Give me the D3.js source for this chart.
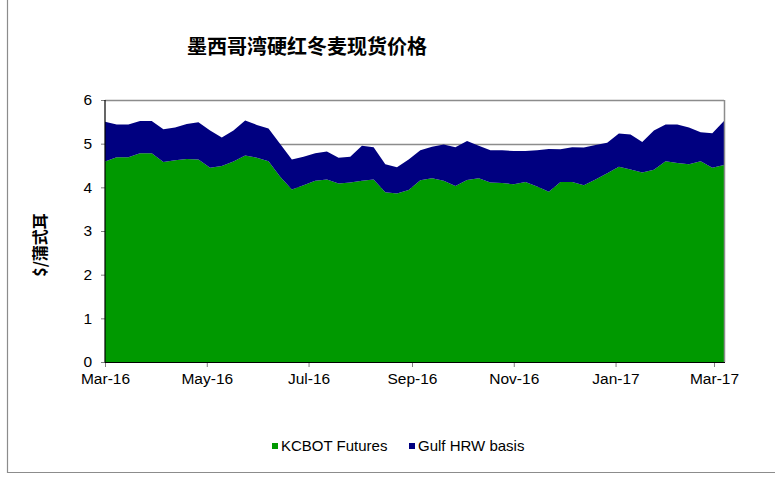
<!DOCTYPE html>
<html>
<head>
<meta charset="utf-8">
<script src="https://cdn.jsdelivr.net/npm/d3@7"></script>
<style>
  body { margin: 0; background: #fff; }
  svg { display: block; font-family: "Liberation Sans", Arial, sans-serif; }
  .title { font-family: "Noto Sans CJK SC", sans-serif; font-weight: 700; }
  .ylabel { font-family: "Noto Sans CJK SC", sans-serif; font-weight: 700; }
  .axis text { font-size: 15.5px; fill: #000; font-family: "Liberation Sans", Arial, sans-serif; }
  .axis .domain { display: none; }
  .axis .tick line { stroke: #808080; }
</style>
</head>
<body>
<svg id="chart" width="775" height="477"></svg>
<script>
// weekly observations, Tuesdays from 2016-03-01
var startDate = new Date(2016, 2, 1);
var weeks = 54;

// $/bu, KCBOT futures
var kcbotFutures = [
  4.59, 4.69, 4.69, 4.78, 4.78, 4.58, 4.62, 4.65, 4.64, 4.45,
  4.49, 4.59, 4.73, 4.68, 4.60, 4.24, 3.95, 4.05, 4.15, 4.18,
  4.09, 4.11, 4.15, 4.18, 3.89, 3.86, 3.94, 4.16, 4.21, 4.15,
  4.03, 4.17, 4.21, 4.11, 4.10, 4.07, 4.12, 4.02, 3.90, 4.12,
  4.12, 4.05, 4.18, 4.32, 4.47, 4.41, 4.34, 4.40, 4.60, 4.56,
  4.53, 4.60, 4.45, 4.51
];

// $/bu, Gulf HRW basis over futures
var gulfBasis = [
  0.91, 0.75, 0.75, 0.74, 0.74, 0.75, 0.75, 0.80, 0.85, 0.85,
  0.65, 0.71, 0.80, 0.75, 0.75, 0.75, 0.69, 0.65, 0.63, 0.64,
  0.59, 0.59, 0.80, 0.74, 0.64, 0.60, 0.70, 0.69, 0.72, 0.83,
  0.89, 0.89, 0.74, 0.74, 0.75, 0.76, 0.71, 0.83, 0.98, 0.75,
  0.80, 0.86, 0.79, 0.70, 0.76, 0.80, 0.70, 0.90, 0.84, 0.88,
  0.84, 0.66, 0.79, 1.01
];

var seriesNames = ['KCBOT Futures', 'Gulf HRW basis'];
var seriesColors = ['#009900', '#000080'];
var yTicks = [0, 1, 2, 3, 4, 5, 6];
var xTicks = [
  new Date(2016, 2, 1), new Date(2016, 4, 1), new Date(2016, 6, 1),
  new Date(2016, 8, 1), new Date(2016, 10, 1), new Date(2017, 0, 1),
  new Date(2017, 2, 1)
];

var rows = d3.range(weeks).map(function(i) {
  return {
    date: d3.timeDay.offset(startDate, i * 7),
    kcbot: kcbotFutures[i],
    basis: gulfBasis[i]
  };
});

var svg = d3.select('#chart');
var plot = { left: 105, right: 724, top: 100, bottom: 362 };

var x = d3.scaleTime()
  .domain([rows[0].date, rows[rows.length - 1].date])
  .range([plot.left, plot.right]);

var y = d3.scaleLinear()
  .domain([0, 6])
  .range([plot.bottom, plot.top]);

// outer chart frame
svg.append('path')
  .attr('d', 'M7.5,0V472.5H775')
  .attr('fill', 'none')
  .attr('stroke', '#8c8c8c')
  .attr('stroke-width', 1.2);

svg.append('text')
  .attr('class', 'title')
  .attr('x', 307)
  .attr('y', 54)
  .attr('text-anchor', 'middle')
  .attr('font-size', 20)
  .text('墨西哥湾硬红冬麦现货价格');

// gridlines under the areas
svg.append('g')
  .selectAll('line')
  .data(yTicks.filter(function(d) { return d > 0; }))
  .enter().append('line')
  .attr('x1', plot.left).attr('x2', plot.right)
  .attr('y1', function(d) { return Math.round(y(d)) + 0.5; })
  .attr('y2', function(d) { return Math.round(y(d)) + 0.5; })
  .attr('stroke', '#8c8c8c')
  .attr('stroke-width', 1.5);

var stack = d3.stack().keys(['kcbot', 'basis']);
var layers = stack(rows);

var area = d3.area()
  .x(function(d) { return x(d.data.date); })
  .y0(function(d) { return y(d[0]); })
  .y1(function(d) { return y(d[1]); });

svg.append('g')
  .selectAll('path')
  .data(layers)
  .enter().append('path')
  .attr('fill', function(d, i) { return seriesColors[i]; })
  .attr('d', area);

// right frame edge
svg.append('line')
  .attr('x1', plot.right + 0.5).attr('x2', plot.right + 0.5)
  .attr('y1', plot.top).attr('y2', plot.bottom)
  .attr('stroke', '#8c8c8c')
  .attr('stroke-width', 1.5);

// axes
var yAxis = d3.axisLeft(y)
  .tickValues(yTicks)
  .tickFormat(d3.format('d'))
  .tickSize(4)
  .tickPadding(9);
svg.append('g')
  .attr('class', 'axis')
  .attr('transform', 'translate(' + plot.left + ',0)')
  .call(yAxis);

var xAxis = d3.axisBottom(x)
  .tickValues(xTicks)
  .tickFormat(d3.timeFormat('%b-%y'))
  .tickSize(5)
  .tickPadding(6);
svg.append('g')
  .attr('class', 'axis')
  .attr('transform', 'translate(0,' + plot.bottom + ')')
  .call(xAxis);

svg.append('line')
  .attr('x1', plot.left).attr('x2', plot.left)
  .attr('y1', plot.top).attr('y2', plot.bottom + 0.5)
  .attr('stroke', '#000').attr('stroke-width', 1.2);
svg.append('line')
  .attr('x1', plot.left).attr('x2', plot.right + 1)
  .attr('y1', plot.bottom + 0.5).attr('y2', plot.bottom + 0.5)
  .attr('stroke', '#000').attr('stroke-width', 1.2);

svg.append('text')
  .attr('class', 'ylabel')
  .attr('transform', 'translate(46,245) rotate(-90)')
  .attr('text-anchor', 'middle')
  .attr('font-size', 16)
  .text('$/蒲式耳');

// legend
var legend = svg.append('g')
  .selectAll('g')
  .data(seriesNames)
  .enter().append('g')
  .attr('transform', function(d, i) { return 'translate(' + [272, 409][i] + ',443)'; });

legend.append('rect')
  .attr('width', 6).attr('height', 6)
  .attr('fill', function(d, i) { return seriesColors[i]; });

legend.append('text')
  .attr('x', 9)
  .attr('y', 8)
  .attr('font-size', 15)
  .text(function(d) { return d; });
</script>
</body>
</html>
